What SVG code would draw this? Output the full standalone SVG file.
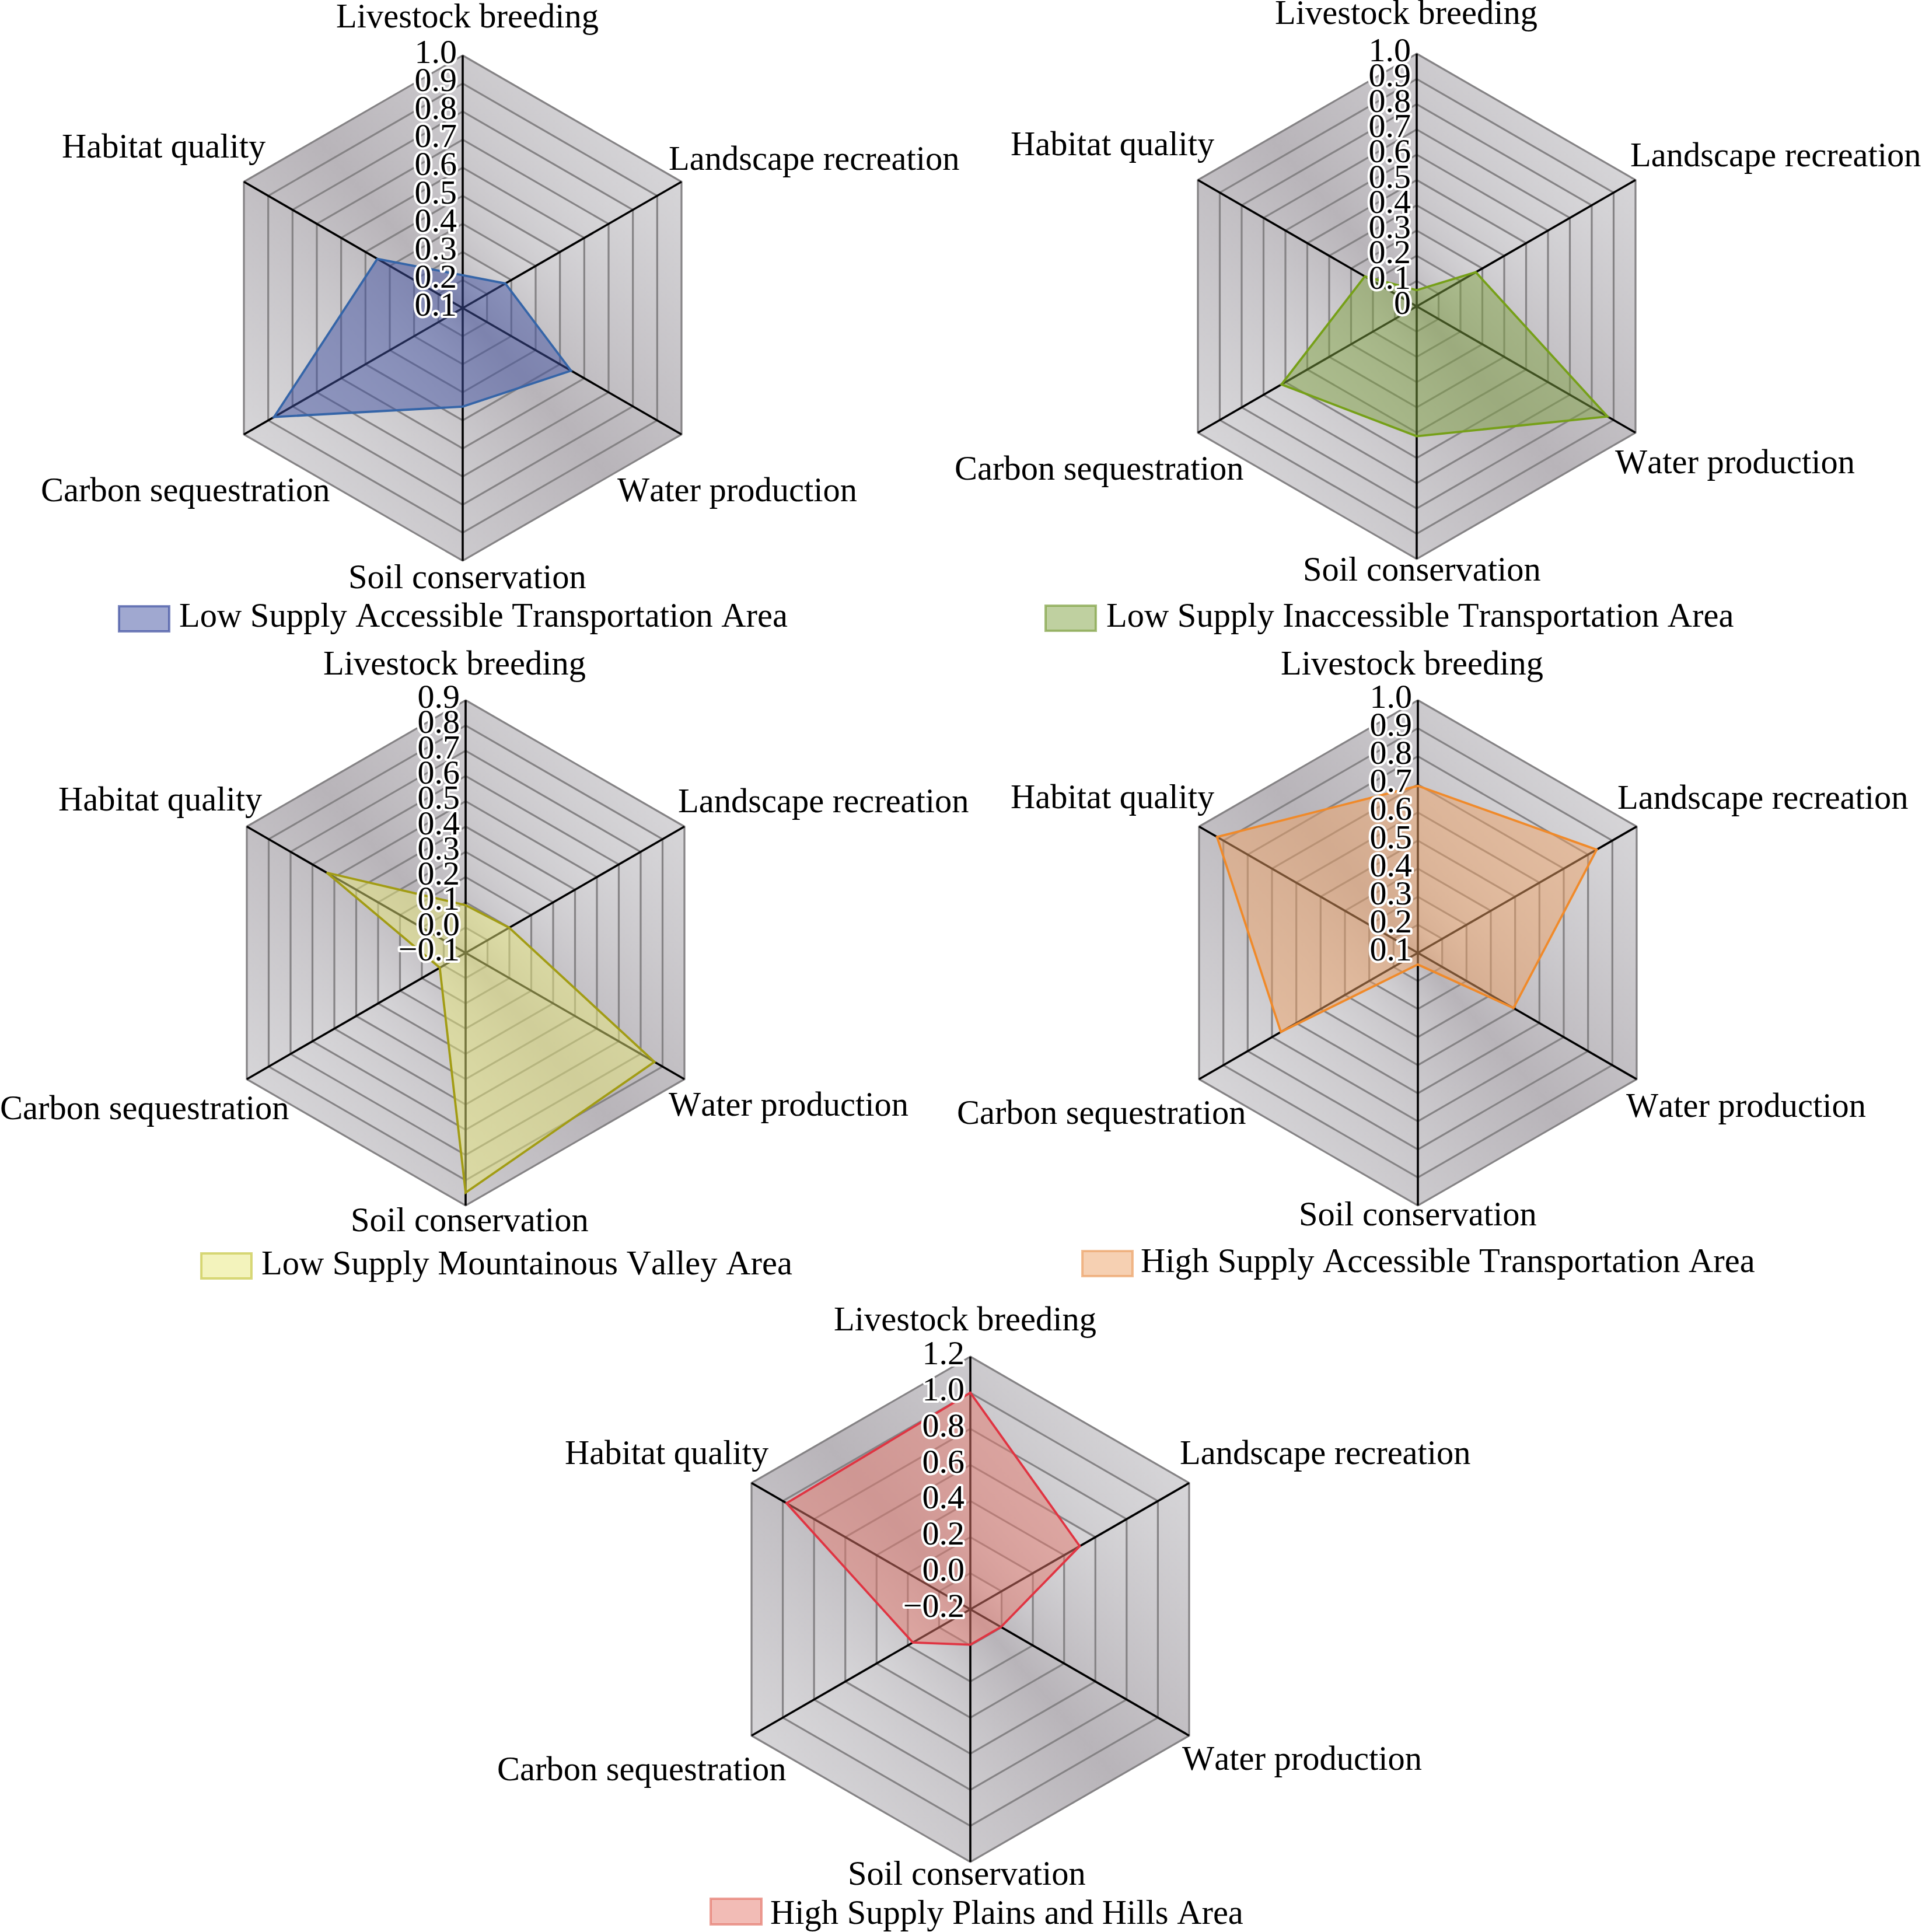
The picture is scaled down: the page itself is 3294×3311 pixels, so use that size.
<svg xmlns="http://www.w3.org/2000/svg" xmlns:xlink="http://www.w3.org/1999/xlink" width="3294" height="3311" viewBox="0 0 3294 3311">
<style>
.ring{fill:url(#bandGrad);stroke:#858385;stroke-width:3.2}
.axis{stroke:#000;stroke-width:3.6;fill:none}
.lbl{font-family:"Liberation Serif","Times New Roman",serif;font-size:58.5px;fill:#000;font-kerning:none}
.tick{font-family:"Liberation Serif","Times New Roman",serif;font-size:58px;fill:#000;text-anchor:end;stroke:#fff;stroke-width:8;stroke-linejoin:round;paint-order:stroke;font-kerning:none}
.data{stroke-width:3.8;fill-opacity:0.5;stroke-linejoin:miter}
.leg{stroke-width:4;fill-opacity:0.5;stroke-opacity:0.7}
</style>
<defs>
<linearGradient id="bandGrad" x1="0" y1="1" x2="1" y2="0">
<stop offset="0" stop-color="#e0e0e2"/>
<stop offset="0.5" stop-color="#b8b4b9"/>
<stop offset="1" stop-color="#e0e0e2"/>
</linearGradient>
<g id="axes">
<line class="axis" x1="0" y1="0" x2="0" y2="-433"/>
<line class="axis" x1="0" y1="0" x2="374.98" y2="-216.5"/>
<line class="axis" x1="0" y1="0" x2="374.98" y2="216.5"/>
<line class="axis" x1="0" y1="0" x2="0" y2="433"/>
<line class="axis" x1="0" y1="0" x2="-374.98" y2="216.5"/>
<line class="axis" x1="0" y1="0" x2="-374.98" y2="-216.5"/>
</g>
<g id="grid9">
<polygon class="ring" points="0,-433 374.98,-216.5 374.98,216.5 0,433 -374.98,216.5 -374.98,-216.5"/>
<polygon class="ring" points="0,-384.89 333.32,-192.44 333.32,192.44 0,384.89 -333.32,192.44 -333.32,-192.44"/>
<polygon class="ring" points="0,-336.78 291.66,-168.39 291.66,168.39 0,336.78 -291.66,168.39 -291.66,-168.39"/>
<polygon class="ring" points="0,-288.67 250,-144.33 250,144.33 0,288.67 -250,144.33 -250,-144.33"/>
<polygon class="ring" points="0,-240.56 208.33,-120.28 208.33,120.28 0,240.56 -208.33,120.28 -208.33,-120.28"/>
<polygon class="ring" points="0,-192.44 166.66,-96.22 166.66,96.22 0,192.44 -166.66,96.22 -166.66,-96.22"/>
<polygon class="ring" points="0,-144.33 125,-72.17 125,72.17 0,144.33 -125,72.17 -125,-72.17"/>
<polygon class="ring" points="0,-96.22 83.33,-48.11 83.33,48.11 0,96.22 -83.33,48.11 -83.33,-48.11"/>
<polygon class="ring" points="0,-48.11 41.67,-24.06 41.67,24.06 0,48.11 -41.67,24.06 -41.67,-24.06"/>
<use xlink:href="#axes" href="#axes"/>
</g>
<g id="grid10">
<polygon class="ring" points="0,-433 375,-216.5 375,216.5 0,433 -375,216.5 -375,-216.5"/>
<polygon class="ring" points="0,-389.7 337.5,-194.85 337.5,194.85 0,389.7 -337.5,194.85 -337.5,-194.85"/>
<polygon class="ring" points="0,-346.4 300,-173.2 300,173.2 0,346.4 -300,173.2 -300,-173.2"/>
<polygon class="ring" points="0,-303.1 262.5,-151.55 262.5,151.55 0,303.1 -262.5,151.55 -262.5,-151.55"/>
<polygon class="ring" points="0,-259.8 225,-129.9 225,129.9 0,259.8 -225,129.9 -225,-129.9"/>
<polygon class="ring" points="0,-216.5 187.5,-108.25 187.5,108.25 0,216.5 -187.5,108.25 -187.5,-108.25"/>
<polygon class="ring" points="0,-173.2 150,-86.6 150,86.6 0,173.2 -150,86.6 -150,-86.6"/>
<polygon class="ring" points="0,-129.9 112.5,-64.95 112.5,64.95 0,129.9 -112.5,64.95 -112.5,-64.95"/>
<polygon class="ring" points="0,-86.6 75,-43.3 75,43.3 0,86.6 -75,43.3 -75,-43.3"/>
<polygon class="ring" points="0,-43.3 37.5,-21.65 37.5,21.65 0,43.3 -37.5,21.65 -37.5,-21.65"/>
<use xlink:href="#axes" href="#axes"/>
</g>
<g id="grid7">
<polygon class="ring" points="0,-433 374.98,-216.5 374.98,216.5 0,433 -374.98,216.5 -374.98,-216.5"/>
<polygon class="ring" points="0,-371.14 321.42,-185.57 321.42,185.57 0,371.14 -321.42,185.57 -321.42,-185.57"/>
<polygon class="ring" points="0,-309.29 267.85,-154.64 267.85,154.64 0,309.29 -267.85,154.64 -267.85,-154.64"/>
<polygon class="ring" points="0,-247.43 214.28,-123.71 214.28,123.71 0,247.43 -214.28,123.71 -214.28,-123.71"/>
<polygon class="ring" points="0,-185.57 160.71,-92.79 160.71,92.79 0,185.57 -160.71,92.79 -160.71,-92.79"/>
<polygon class="ring" points="0,-123.71 107.14,-61.86 107.14,61.86 0,123.71 -107.14,61.86 -107.14,-61.86"/>
<polygon class="ring" points="0,-61.86 53.57,-30.93 53.57,30.93 0,61.86 -53.57,30.93 -53.57,-30.93"/>
<use xlink:href="#axes" href="#axes"/>
</g>
</defs>
<rect x="0" y="0" width="3294" height="3311" fill="#fff"/>

<!-- Chart 1 -->
<g id="chart1">
<g transform="translate(793,528)">
<use xlink:href="#grid9" href="#grid9"/>
<polygon class="data" fill="#4252a2" stroke="#3565a8" points="0,-56.3 73.1,-42.2 185.6,107.2 0,168.9 -323.3,186.6 -146.3,-84.4"/>
<text class="tick" x="-10" y="-420">1.0</text>
<text class="tick" x="-10" y="-371.9">0.9</text>
<text class="tick" x="-10" y="-323.8">0.8</text>
<text class="tick" x="-10" y="-275.7">0.7</text>
<text class="tick" x="-10" y="-227.6">0.6</text>
<text class="tick" x="-10" y="-179.4">0.5</text>
<text class="tick" x="-10" y="-131.3">0.4</text>
<text class="tick" x="-10" y="-83.2">0.3</text>
<text class="tick" x="-10" y="-35.1">0.2</text>
<text class="tick" x="-10" y="13">0.1</text>
</g>
<text class="lbl" x="576" y="47">Livestock breeding</text>
<text class="lbl" x="1146" y="291">Landscape recreation</text>
<text class="lbl" x="106" y="270">Habitat quality</text>
<text class="lbl" x="1058" y="859">Water production</text>
<text class="lbl" x="70" y="859">Carbon sequestration</text>
<text class="lbl" x="597" y="1008">Soil conservation</text>
<rect class="leg" x="204" y="1039" width="86" height="43" fill="#4252a2" stroke="#4252a2"/>
<text class="lbl" x="307" y="1074">Low Supply Accessible Transportation Area</text>
</g>

<!-- Chart 2 -->
<g id="chart2">
<g transform="translate(2428,525)">
<use xlink:href="#grid10" href="#grid10"/>
<polygon class="data" fill="#7fa141" stroke="#76a018" points="0,-27.7 101.3,-58.5 327,188.8 0,222.6 -231.8,133.8 -88.9,-51.3"/>
<text class="tick" x="-10" y="-420">1.0</text>
<text class="tick" x="-10" y="-376.7">0.9</text>
<text class="tick" x="-10" y="-333.4">0.8</text>
<text class="tick" x="-10" y="-290.1">0.7</text>
<text class="tick" x="-10" y="-246.8">0.6</text>
<text class="tick" x="-10" y="-203.5">0.5</text>
<text class="tick" x="-10" y="-160.2">0.4</text>
<text class="tick" x="-10" y="-116.9">0.3</text>
<text class="tick" x="-10" y="-73.6">0.2</text>
<text class="tick" x="-10" y="-30.3">0.1</text>
<text class="tick" x="-10" y="13">0</text>
</g>
<text class="lbl" x="2185" y="41">Livestock breeding</text>
<text class="lbl" x="2794" y="285">Landscape recreation</text>
<text class="lbl" x="1732" y="266">Habitat quality</text>
<text class="lbl" x="2768" y="811">Water production</text>
<text class="lbl" x="1636" y="822">Carbon sequestration</text>
<text class="lbl" x="2233" y="995">Soil conservation</text>
<rect class="leg" x="1792" y="1038" width="86" height="43" fill="#7fa141" stroke="#7fa141"/>
<text class="lbl" x="1896" y="1074">Low Supply Inaccessible Transportation Area</text>
</g>

<!-- Chart 3 -->
<g id="chart3">
<g transform="translate(798,1633)">
<use xlink:href="#grid10" href="#grid10"/>
<polygon class="data" fill="#e7e779" stroke="#a29c14" points="0,-81.8 74.6,-43.1 323.6,186.8 0,410.9 -44.3,25.5 -238.1,-137.5"/>
<text class="tick" x="-10" y="-420">0.9</text>
<text class="tick" x="-10" y="-376.7">0.8</text>
<text class="tick" x="-10" y="-333.4">0.7</text>
<text class="tick" x="-10" y="-290.1">0.6</text>
<text class="tick" x="-10" y="-246.8">0.5</text>
<text class="tick" x="-10" y="-203.5">0.4</text>
<text class="tick" x="-10" y="-160.2">0.3</text>
<text class="tick" x="-10" y="-116.9">0.2</text>
<text class="tick" x="-10" y="-73.6">0.1</text>
<text class="tick" x="-10" y="-30.3">0.0</text>
<text class="tick" x="-10" y="13">−0.1</text>
</g>
<text class="lbl" x="554" y="1156">Livestock breeding</text>
<text class="lbl" x="1162" y="1392">Landscape recreation</text>
<text class="lbl" x="100" y="1389">Habitat quality</text>
<text class="lbl" x="1146" y="1912">Water production</text>
<text class="lbl" x="0" y="1918">Carbon sequestration</text>
<text class="lbl" x="601" y="2110">Soil conservation</text>
<rect class="leg" x="345" y="2148" width="86" height="43" fill="#e7e779" stroke="#c8c84a"/>
<text class="lbl" x="448" y="2184">Low Supply Mountainous Valley Area</text>
</g>

<!-- Chart 4 -->
<g id="chart4">
<g transform="translate(2430,1633)">
<use xlink:href="#grid9" href="#grid9"/>
<polygon class="data" fill="#eda165" stroke="#f08a2a" points="0,-286.2 306.4,-176.9 163.9,94.6 0,19.9 -234.8,135.5 -344.3,-198.7"/>
<text class="tick" x="-10" y="-420">1.0</text>
<text class="tick" x="-10" y="-371.9">0.9</text>
<text class="tick" x="-10" y="-323.8">0.8</text>
<text class="tick" x="-10" y="-275.7">0.7</text>
<text class="tick" x="-10" y="-227.6">0.6</text>
<text class="tick" x="-10" y="-179.4">0.5</text>
<text class="tick" x="-10" y="-131.3">0.4</text>
<text class="tick" x="-10" y="-83.2">0.3</text>
<text class="tick" x="-10" y="-35.1">0.2</text>
<text class="tick" x="-10" y="13">0.1</text>
</g>
<text class="lbl" x="2195" y="1156">Livestock breeding</text>
<text class="lbl" x="2772" y="1386">Landscape recreation</text>
<text class="lbl" x="1732" y="1385">Habitat quality</text>
<text class="lbl" x="2787" y="1914">Water production</text>
<text class="lbl" x="1640" y="1926">Carbon sequestration</text>
<text class="lbl" x="2226" y="2100">Soil conservation</text>
<rect class="leg" x="1855" y="2144" width="86" height="43" fill="#eda165" stroke="#eda165"/>
<text class="lbl" x="1955" y="2180">High Supply Accessible Transportation Area</text>
</g>

<!-- Chart 5 -->
<g id="chart5">
<g transform="translate(1663,2758)">
<use xlink:href="#grid7" href="#grid7"/>
<polygon class="data" fill="#e5796d" stroke="#e03442" points="0,-371.1 187.5,-108.3 52.5,30.3 0,60.6 -98.6,56.9 -315,-181.9"/>
<text class="tick" x="-10" y="-420">1.2</text>
<text class="tick" x="-10" y="-358.1">1.0</text>
<text class="tick" x="-10" y="-296.3">0.8</text>
<text class="tick" x="-10" y="-234.4">0.6</text>
<text class="tick" x="-10" y="-172.6">0.4</text>
<text class="tick" x="-10" y="-110.7">0.2</text>
<text class="tick" x="-10" y="-48.9">0.0</text>
<text class="tick" x="-10" y="13">−0.2</text>
</g>
<text class="lbl" x="1429" y="2280">Livestock breeding</text>
<text class="lbl" x="2022" y="2509">Landscape recreation</text>
<text class="lbl" x="968" y="2509">Habitat quality</text>
<text class="lbl" x="2026" y="3033">Water production</text>
<text class="lbl" x="852" y="3051">Carbon sequestration</text>
<text class="lbl" x="1453" y="3230">Soil conservation</text>
<rect class="leg" x="1218" y="3254" width="87" height="44" fill="#e5796d" stroke="#e5796d"/>
<text class="lbl" x="1320" y="3297">High Supply Plains and Hills Area</text>
</g>
</svg>
